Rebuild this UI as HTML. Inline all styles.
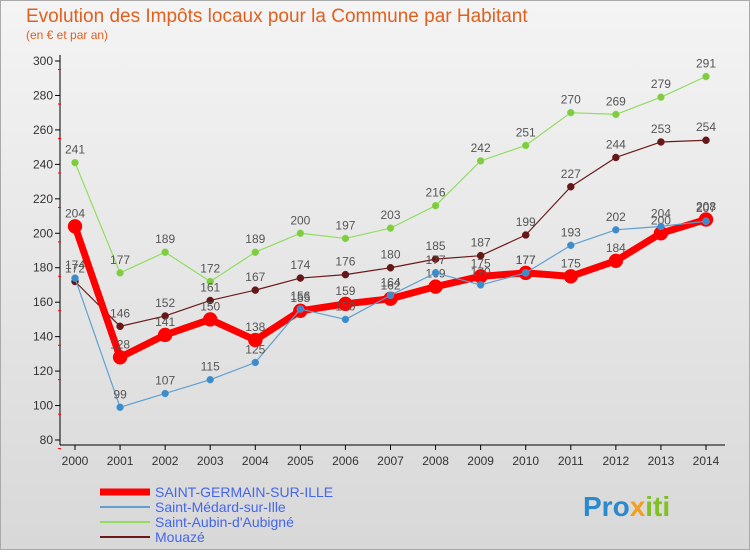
<!DOCTYPE html>
<html><head><meta charset="utf-8"><style>
body{margin:0;width:750px;height:550px;overflow:hidden;font-family:"Liberation Sans",sans-serif}
</style></head><body>
<svg width="750" height="550" viewBox="0 0 750 550">
<defs><linearGradient id="bg" x1="0" y1="0" x2="0" y2="1"><stop offset="0" stop-color="#f4f4f4"/><stop offset="1" stop-color="#d8d8d8"/></linearGradient></defs>
<rect x="0.5" y="0.5" width="749" height="549" fill="url(#bg)" stroke="#aaa"/>
<text x="26" y="22" font-size="19" fill="#e06020">Evolution des Impôts locaux pour la Commune par Habitant</text>
<text x="26" y="39" font-size="12" fill="#e06020">(en € et par an)</text>
<g id="axes"></g>
<g id="series"></g>
<g id="legend"></g>
<g>
<text x="583" y="516" font-size="28" font-weight="bold" fill="#2a8ad0" font-family="Liberation Sans,sans-serif">Pro<tspan fill="#f0a020">x</tspan><tspan fill="#80c020">iti</tspan></text>
</g>
</svg>
<script>
const years=[2000,2001,2002,2003,2004,2005,2006,2007,2008,2009,2010,2011,2012,2013,2014];
const yTicks=[80,100,120,140,160,180,200,220,240,260,280,300];
const sgValues=[204,128,141,150,138,155,159,162,169,175,177,175,184,200,208];
const medardValues=[174,99,107,115,125,156,150,164,177,170,177,193,202,204,207];
const aubinValues=[241,177,189,172,189,200,197,203,216,242,251,270,269,279,291];
const mouazeValues=[172,146,152,161,167,174,176,180,185,187,199,227,244,253,254];
const seriesNames=["SAINT-GERMAIN-SUR-ILLE","Saint-Médard-sur-Ille","Saint-Aubin-d'Aubigné","Mouazé"];
const NS="http://www.w3.org/2000/svg";
const x0=75,x1=706,yTop=61,yBot=440;
function xs(i){return x0+(x1-x0)*i/(years.length-1);}
function ys(v){return yBot-(v-80)/(300-80)*(yBot-yTop);}
function mk(tag,attrs,parent,txt){const e=document.createElementNS(NS,tag);for(const k in attrs)e.setAttribute(k,attrs[k]);if(txt!==undefined)e.textContent=txt;parent.appendChild(e);return e;}
const ax=document.getElementById('axes');
let l=mk('line',{x1:60,y1:55,x2:60,y2:445,stroke:'#000'},ax);


l=mk('line',{x1:60,y1:445,x2:725,y2:445,stroke:'#000'},ax);


yTicks.forEach(v=>{const y=ys(v);
 mk('line',{x1:55,y1:y,x2:60,y2:y,stroke:'#000'},ax);
 mk('line',{x1:58,y1:y+8.6,x2:61,y2:y+8.6,stroke:'#f00'},ax);
 const t=mk('text',{x:53,y:y+4,'font-size':12,'text-anchor':'end',fill:'#333'},ax,v);
 
 });
years.forEach((yr,i)=>{const x=xs(i);
 mk('line',{x1:x,y1:445,x2:x,y2:450,stroke:'#000'},ax);
 const t=mk('text',{x:x,y:465,'font-size':12,'text-anchor':'middle',fill:'#333'},ax,yr);
 
 });
const sg=document.getElementById('series');
function draw(vals,color,w,r,dot,name){const g=mk('g',{},sg);
 
 
 mk('polyline',{points:vals.map((v,i)=>xs(i)+','+ys(v)).join(' '),fill:'none',stroke:color,'stroke-width':w,'stroke-linejoin':'round'},g);
 vals.forEach((v,i)=>{const c=mk('circle',{cx:xs(i),cy:ys(v),r:r,fill:dot,stroke:color,'stroke-width':0.5},g);
  
  
  const t=mk('text',{x:xs(i),y:ys(v)-9,'font-size':12,'text-anchor':'middle',fill:'#555'},g,v);
  
  });}
draw(aubinValues,'#90dd60',1.2,3.5,'#80cc40','aubin-series');
draw(mouazeValues,'#6a1a1a',1.2,3.5,'#661818','mouaze-series');
draw(sgValues,'#ff0000',7,7,'#ff0000','saint-germain-series');
draw(medardValues,'#5fa0d0',1.2,3.5,'#3a8ccc','medard-series');
const lg=document.getElementById('legend');
const lc=[['#ff0000',7],['#5fa0d0',2],['#90dd60',2],['#6a1a1a',2]];
seriesNames.forEach((n,i)=>{const y=492+i*15;const g=mk('g',{},lg);
 
 
 mk('line',{x1:100,y1:y,x2:150,y2:y,stroke:lc[i][0],'stroke-width':lc[i][1]},g);
 mk('text',{x:155,y:y+5,'font-size':14,fill:'#4466ee'},g,n);});
</script>
</body></html>
